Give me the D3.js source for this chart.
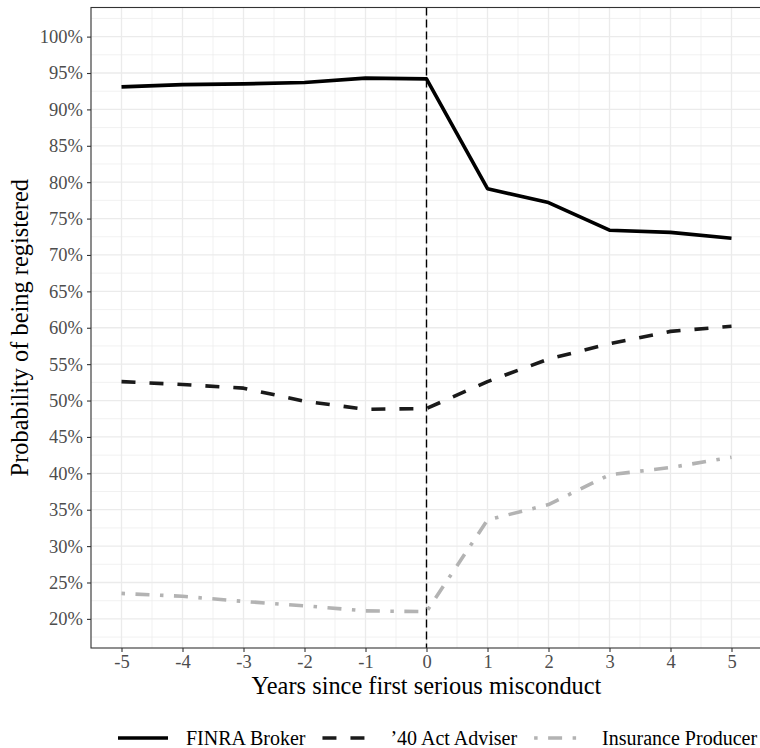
<!DOCTYPE html>
<html>
<head>
<meta charset="utf-8">
<title>Probability of being registered</title>
<script src="https://d3js.org/d3.v7.min.js"></script>
<style>
  body { margin: 0; background: #fff; }
  text { font-family: "Liberation Serif", "Times New Roman", serif; }
</style>
</head>
<body>
<div id="chart"></div>
<script>
// years relative to first serious misconduct
const years = [-5, -4, -3, -2, -1, 0, 1, 2, 3, 4, 5];
// probability of being registered, in percent
const finraBroker = [93.1, 93.4, 93.5, 93.7, 94.3, 94.2, 79.1, 77.2, 73.4, 73.1, 72.3];
const actAdviser = [52.6, 52.2, 51.7, 49.9, 48.8, 48.9, 52.6, 55.7, 57.8, 59.5, 60.2];
const insuranceProducer = [23.5, 23.1, 22.4, 21.8, 21.1, 21.0, 33.6, 35.7, 39.8, 40.8, 42.2];
const seriesNames = ["FINRA Broker", "\u201940 Act Adviser", "Insurance Producer"];
const yTicks = [20, 25, 30, 35, 40, 45, 50, 55, 60, 65, 70, 75, 80, 85, 90, 95, 100];

const W = 760, H = 748;
const padL = 91, padT = 7.5, padR = 762, padB = 648;

const svg = d3.select("#chart").append("svg")
  .attr("width", W).attr("height", H);

const x = d3.scaleLinear().domain([-5.5, 5.5]).range([padL, padR]);
const y = d3.scaleLinear().domain([16, 104]).range([padB, padT]);

// grid
const grid = svg.append("g");
const minorX = d3.range(-5.5, 5.6, 1);
const minorY = d3.range(17.5, 104, 5);
grid.selectAll(".mx").data(minorX).enter().append("line")
  .attr("x1", d => x(d)).attr("x2", d => x(d))
  .attr("y1", padT).attr("y2", padB)
  .attr("stroke", "#ebebeb").attr("stroke-width", 0.7);
grid.selectAll(".my").data(minorY).enter().append("line")
  .attr("x1", padL).attr("x2", padR)
  .attr("y1", d => y(d)).attr("y2", d => y(d))
  .attr("stroke", "#ebebeb").attr("stroke-width", 0.7);
grid.selectAll(".Mx").data(years).enter().append("line")
  .attr("x1", d => x(d)).attr("x2", d => x(d))
  .attr("y1", padT).attr("y2", padB)
  .attr("stroke", "#ebebeb").attr("stroke-width", 1.3);
grid.selectAll(".My").data(yTicks).enter().append("line")
  .attr("x1", padL).attr("x2", padR)
  .attr("y1", d => y(d)).attr("y2", d => y(d))
  .attr("stroke", "#ebebeb").attr("stroke-width", 1.3);

// vertical line at year 0
svg.append("line")
  .attr("x1", x(0)).attr("x2", x(0))
  .attr("y1", padT).attr("y2", padB)
  .attr("stroke", "#000").attr("stroke-width", 1.4)
  .attr("stroke-dasharray", "8,4");

// series
const styles = [
  { vals: finraBroker, color: "#000000", dash: null },
  { vals: actAdviser, color: "#1a1a1a", dash: "14,14" },
  { vals: insuranceProducer, color: "#b3b3b3", dash: "3.5,10.5,14,10.5" }
];
const line = d3.line().x(d => x(d[0])).y(d => y(d[1]));
styles.forEach(s => {
  svg.append("path")
    .datum(years.map((yr, i) => [yr, s.vals[i]]))
    .attr("d", line)
    .attr("fill", "none")
    .attr("stroke", s.color)
    .attr("stroke-width", 3.6)
    .attr("stroke-linejoin", "round")
    .attr("stroke-dasharray", s.dash);
});

// panel border
svg.append("rect")
  .attr("x", padL).attr("y", padT)
  .attr("width", padR - padL).attr("height", padB - padT)
  .attr("fill", "none").attr("stroke", "#333").attr("stroke-width", 1.1);

// axes
const yAxis = svg.append("g")
  .attr("transform", `translate(${padL},0)`)
  .call(d3.axisLeft(y).tickValues(yTicks).tickSize(4).tickPadding(4).tickFormat(d => d + "%"));
const xAxis = svg.append("g")
  .attr("transform", `translate(0,${padB})`)
  .call(d3.axisBottom(x).tickValues(years).tickSize(4).tickPadding(3).tickFormat(d => d));
[xAxis, yAxis].forEach(a => {
  a.select(".domain").remove();
  a.selectAll(".tick line").attr("stroke", "#333").attr("stroke-width", 1.1);
  a.selectAll(".tick text")
    .attr("fill", "#4d4d4d")
    .style("font-family", '"Liberation Serif", serif')
    .style("font-size", "18.5px");
});

// axis titles
svg.append("text")
  .attr("x", (padL + padR) / 2).attr("y", 694)
  .attr("text-anchor", "middle")
  .style("font-size", "24.4px")
  .text("Years since first serious misconduct");
svg.append("text")
  .attr("transform", `translate(28,${(padT + padB) / 2}) rotate(-90)`)
  .attr("text-anchor", "middle")
  .style("font-size", "24.4px")
  .text("Probability of being registered");

// legend
const legend = svg.append("g").attr("transform", "translate(118,738)");
let lx = 0;
styles.forEach((s, i) => {
  legend.append("line")
    .attr("x1", lx).attr("x2", lx + 50)
    .attr("y1", 0).attr("y2", 0)
    .attr("stroke", s.color).attr("stroke-width", 3.6)
    .attr("stroke-dasharray", s.dash);
  const t = legend.append("text")
    .attr("x", lx + 68).attr("y", 0)
    .attr("dy", "0.33em")
    .style("font-size", "20px")
    .text(seriesNames[i]);
  lx += 68 + t.node().getComputedTextLength() + 17;
});
</script>
</body>
</html>
